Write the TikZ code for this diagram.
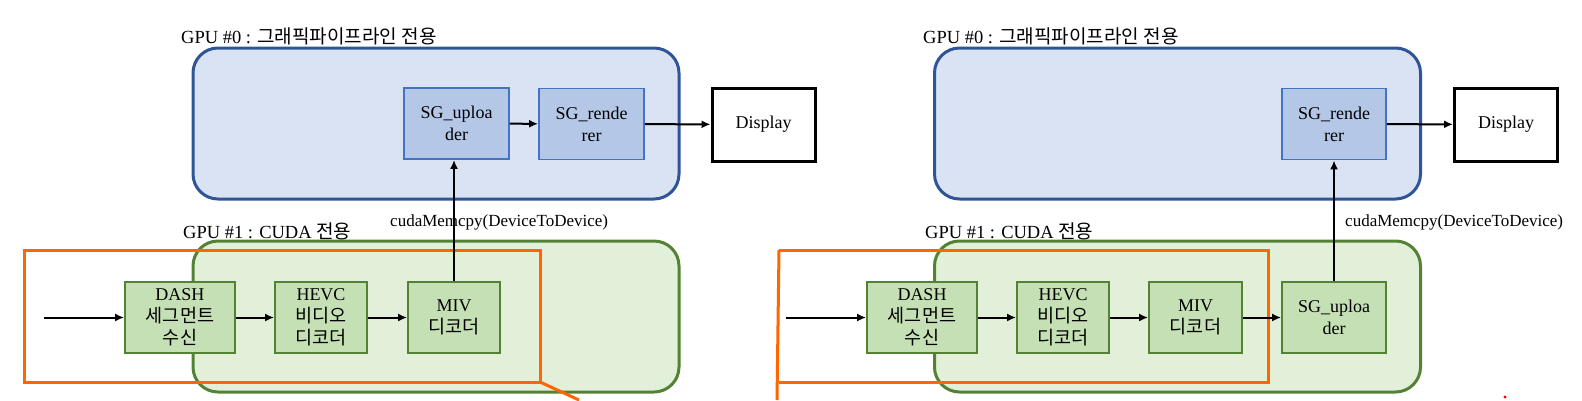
\documentclass[tikz,border=0pt]{standalone}
\usepackage{fontspec}
\setmainfont{Liberation Serif}
\newfontfamily\krfont[Scale=1.03]{Noto Sans CJK KR}
\usetikzlibrary{arrows.meta, positioning}

\definecolor{gpuBlueFill}{HTML}{DAE3F3}
\definecolor{gpuBlueLine}{HTML}{2F5597}
\definecolor{blkBlueFill}{HTML}{B4C7E7}
\definecolor{blkBlueLine}{HTML}{4472C4}
\definecolor{gpuGreenFill}{HTML}{E2F0D9}
\definecolor{gpuGreenLine}{HTML}{548235}
\definecolor{blkGreenFill}{HTML}{C5E0B4}
\definecolor{calloutOrange}{HTML}{FF6600}

\tikzset{
  gpubox/.style={rounded corners=25pt, line width=3pt, minimum width=486pt, minimum height=151pt},
  gpuzero/.style={gpubox, draw=gpuBlueLine, fill=gpuBlueFill},
  gpuone/.style={gpubox, draw=gpuGreenLine, fill=gpuGreenFill},
  boxtext/.style={font=\fontsize{18pt}{22pt}\selectfont, align=center, inner sep=0pt},
  blueblk/.style={boxtext, draw=blkBlueLine, fill=blkBlueFill, line width=1.8pt, minimum width=105pt, minimum height=71pt},
  greenblk/.style={boxtext, draw=gpuGreenLine, fill=blkGreenFill, line width=1.8pt, minimum height=71pt},
  dispbox/.style={boxtext, draw=black, line width=3pt, minimum width=103pt, minimum height=73pt},
  gpulabel/.style={anchor=west, inner sep=0pt, font=\fontsize{18.5pt}{22pt}\selectfont},
  memlabel/.style={anchor=west, inner sep=0pt, font=\fontsize{17pt}{20pt}\selectfont},
  arr/.style={-{Latex[length=9pt,width=8pt]}, line width=2pt},
  callout/.style={draw=calloutOrange, line width=3pt}
}

\begin{document}
\begin{tikzpicture}[x=1pt, y=-1pt]
  \useasboundingbox (0,0) rectangle (1582,400);

  % left: decoder chain on GPU #1, uploader on GPU #0
  \node[gpuzero] (gzeroL) at (436,123.5) {};
  \node[gpuone] (goneL) at (436,316.5) {};
  \node[gpulabel] (lzeroL) at (181,36) {GPU \#0 : {\krfont 그래픽파이프라인 전용}};
  \node[gpulabel] (loneL) at (183,231) {GPU \#1 : CUDA {\krfont 전용}};

  \node[blueblk] (upL) at (456.5,123.5) {SG\_uploa\\der};
  \node[blueblk] (renL) at (591.5,124) {SG\_rende\\rer};
  \node[dispbox] (dispL) at (763.5,124.5) {Display};

  \node[greenblk, minimum width=110pt] (dashL) at (180,317.5) {DASH\\{\krfont 세그먼트}\\{\krfont 수신}};
  \node[greenblk, minimum width=92pt] (hevcL) at (321,317.5) {HEVC\\{\krfont 비디오}\\{\krfont 디코더}};
  \node[greenblk, minimum width=92pt] (mivL) at (454,317.5) {MIV\\{\krfont 디코더}};
  \coordinate (inL) at (44,317.5);

  \draw[callout] (24,250) rectangle (540,382);
  \draw[callout] (540,382) -- (579,400);

  \node[memlabel] (memL) at (390,222) {cudaMemcpy(DeviceToDevice)};

  \draw[arr] (inL) -- (dashL);
  \draw[arr] (dashL) -- (hevcL);
  \draw[arr] (hevcL) -- (mivL);
  \draw[arr] (mivL.north) -- (mivL.north |- upL.south);
  \draw[arr] (upL) -- (renL);
  \draw[arr] (renL) -- (dispL);

  % right: uploader moved onto GPU #1
  \node[gpuzero] (gzeroR) at (1177.5,123.5) {};
  \node[gpuone] (goneR) at (1177.5,316.5) {};
  \node[gpulabel] (lzeroR) at (923,36) {GPU \#0 : {\krfont 그래픽파이프라인 전용}};
  \node[gpulabel] (loneR) at (925,231) {GPU \#1 : CUDA {\krfont 전용}};

  \node[blueblk, minimum width=104pt] (renR) at (1334,124) {SG\_rende\\rer};
  \node[dispbox] (dispR) at (1506,124.5) {Display};

  \node[greenblk, minimum width=110pt] (dashR) at (922,317.5) {DASH\\{\krfont 세그먼트}\\{\krfont 수신}};
  \node[greenblk, minimum width=92pt] (hevcR) at (1063,317.5) {HEVC\\{\krfont 비디오}\\{\krfont 디코더}};
  \node[greenblk, minimum width=93pt] (mivR) at (1195.5,317.5) {MIV\\{\krfont 디코더}};
  \node[greenblk, minimum width=104pt] (upR) at (1334,317.5) {SG\_uploa\\der};
  \coordinate (inR) at (786,317.5);

  \draw[callout] (779,250) -- (1268,250) -- (1268,382) -- (779,382);
  \draw[callout] (779,250) -- (777,400);

  \node[memlabel] (memR) at (1345,222) {cudaMemcpy(DeviceToDevice)};

  \draw[arr] (inR) -- (dashR);
  \draw[arr] (dashR) -- (hevcR);
  \draw[arr] (hevcR) -- (mivR);
  \draw[arr] (mivR) -- (upR);
  \draw[arr] (upR) -- (renR);
  \draw[arr] (renR) -- (dispR);

  \fill[red] (1505,397) circle (1.6);
\end{tikzpicture}
\end{document}
